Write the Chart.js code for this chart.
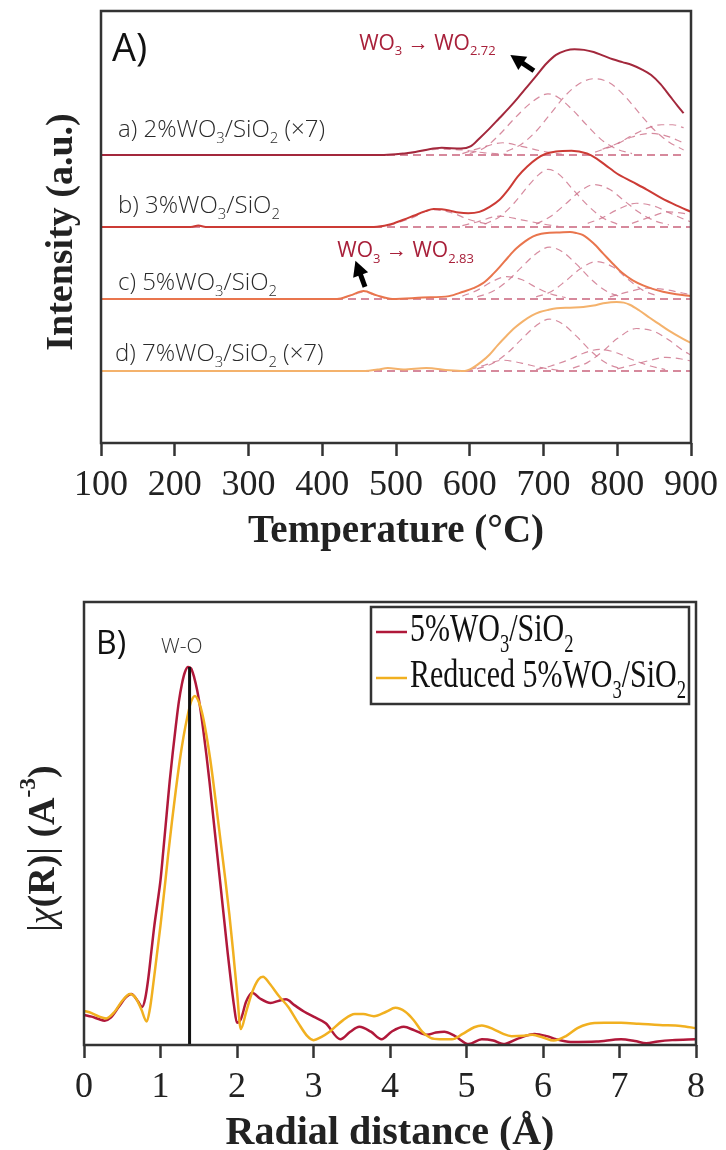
<!DOCTYPE html>
<html>
<head>
<meta charset="utf-8">
<script src="https://cdn.jsdelivr.net/npm/chart.js@4.4.1/dist/chart.umd.min.js"></script>
<style>
html, body { margin: 0; padding: 0; background: #fff; }
#wrap { position: relative; width: 726px; height: 1150px; }
#wrap canvas { position: absolute; left: 0; }
</style>
</head>
<body>
<div id="wrap">
  <canvas id="tpr" width="726" height="575" style="top:0"></canvas>
  <canvas id="exafs" width="726" height="575" style="top:575px"></canvas>
</div>
<script>
// ---------- A) H2-TPR profiles (heights above each sample's own baseline) ----------
var tempTicks = [100, 200, 300, 400, 500, 600, 700, 800, 900];

var tempA = [100, 300, 480, 500, 520, 540, 562, 588, 601, 613, 627, 640, 653, 665, 678, 691, 704, 717, 730, 742, 755, 768, 781, 794, 807, 820, 833, 846, 859, 872, 882, 890];
var sigA  = [0, 0, 0, 0.01, 0.03, 0.07, 0.10, 0.09, 0.12, 0.23, 0.37, 0.51, 0.65, 0.79, 0.95, 1.11, 1.27, 1.39, 1.45, 1.47, 1.46, 1.43, 1.38, 1.33, 1.29, 1.25, 1.19, 1.11, 0.98, 0.81, 0.68, 0.58];

var tempB = [100, 222, 232, 242, 470, 490, 510, 525, 540, 551, 562, 572, 585, 598, 613, 627, 640, 653, 665, 678, 691, 704, 717, 738, 759, 772, 784, 800, 820, 840, 860, 880, 900];
var sigB  = [0, 0, 0.02, 0, 0, 0.03, 0.10, 0.16, 0.22, 0.25, 0.245, 0.23, 0.20, 0.19, 0.21, 0.28, 0.375, 0.53, 0.70, 0.84, 0.95, 1.02, 1.05, 1.06, 1.02, 0.95, 0.86, 0.74, 0.63, 0.52, 0.40, 0.30, 0.21];

var tempC = [100, 420, 438, 456, 474, 495, 536, 572, 591, 605, 618, 630, 641, 652, 663, 675, 686, 697, 708, 722, 736, 745, 753, 767, 781, 794, 807, 821, 835, 848, 862, 880, 900];
var sigC  = [0, 0, 0.05, 0.11, 0.05, 0, 0.02, 0.04, 0.10, 0.15, 0.22, 0.33, 0.45, 0.58, 0.70, 0.80, 0.87, 0.905, 0.92, 0.925, 0.93, 0.915, 0.89, 0.78, 0.63, 0.49, 0.36, 0.26, 0.19, 0.14, 0.10, 0.065, 0.04];

var tempD = [100, 458, 475, 489, 510, 541, 572, 593, 605, 616, 627, 638, 650, 661, 672, 684, 695, 707, 718, 736, 754, 768, 781, 799, 809, 817, 830, 844, 857, 870, 885, 900];
var sigD  = [0, 0, 0.02, 0.04, 0.02, 0.04, 0.01, 0, 0.05, 0.13, 0.23, 0.36, 0.49, 0.60, 0.69, 0.77, 0.82, 0.85, 0.87, 0.88, 0.89, 0.91, 0.94, 0.96, 0.95, 0.92, 0.84, 0.74, 0.65, 0.56, 0.47, 0.39];

// fitted peak components [temperature, height]
var fitA1 = [[600,0.02],[620,0.10],[640,0.28],[660,0.50],[680,0.70],[695,0.81],[706,0.85],[720,0.80],[740,0.62],[760,0.40],[780,0.20],[800,0.08],[820,0.02]];
var fitA2 = [[650,0.05],[670,0.15],[690,0.33],[710,0.58],[730,0.83],[750,1.00],[769,1.06],[790,1.00],[810,0.82],[830,0.58],[850,0.35],[870,0.18],[890,0.07]];
var fitA3 = [[780,0.08],[800,0.16],[820,0.27],[840,0.37],[860,0.42],[875,0.42],[890,0.38]];
var fitA4 = [[770,0.04],[795,0.13],[820,0.25],[845,0.30],[865,0.27],[890,0.17]];
var fitA5 = [[590,0.02],[615,0.10],[645,0.17],[670,0.12],[700,0.05],[725,0.01]];
var fitA6 = [[500,0.01],[530,0.05],[560,0.08],[590,0.07],[620,0.03],[650,0.01]];

var fitB1 = [[620,0.04],[640,0.14],[660,0.33],[680,0.58],[695,0.74],[706,0.80],[720,0.74],[740,0.52],[760,0.30],[780,0.13],[800,0.04]];
var fitB2 = [[690,0.04],[710,0.15],[730,0.32],[750,0.50],[769,0.59],[790,0.52],[810,0.36],[830,0.20],[850,0.09],[870,0.03]];
var fitB3 = [[760,0.05],[780,0.13],[800,0.24],[826,0.33],[850,0.29],[870,0.20],[890,0.11],[900,0.07]];
var fitB4 = [[820,0.05],[845,0.14],[870,0.21],[890,0.19],[900,0.17]];
var fitB5 = [[590,0.02],[610,0.07],[640,0.15],[670,0.10],[700,0.04],[720,0.01]];
var fitB6 = [[490,0.02],[520,0.12],[550,0.24],[575,0.20],[600,0.10],[630,0.03]];

var fitC1 = [[610,0.03],[630,0.10],[650,0.24],[670,0.44],[690,0.63],[708,0.72],[725,0.66],[745,0.48],[765,0.27],[785,0.11],[805,0.03]];
var fitC2 = [[690,0.03],[710,0.10],[730,0.25],[750,0.42],[772,0.52],[795,0.44],[815,0.27],[835,0.12],[855,0.04]];
var fitC3 = [[590,0.04],[610,0.12],[630,0.24],[650,0.31],[670,0.27],[690,0.16],[710,0.07],[730,0.02]];
var fitC4 = [[790,0.03],[815,0.10],[840,0.15],[865,0.13],[890,0.08],[900,0.06]];
var fitC5 = [[430,0.02],[445,0.07],[456,0.10],[470,0.06],[485,0.01]];

var fitD1 = [[610,0.03],[630,0.10],[650,0.24],[670,0.44],[690,0.63],[708,0.72],[725,0.66],[745,0.48],[765,0.27],[785,0.11],[805,0.03]];
var fitD2 = [[740,0.04],[760,0.12],[780,0.27],[800,0.45],[826,0.59],[850,0.55],[870,0.43],[890,0.28],[900,0.22]];
var fitD3 = [[690,0.02],[710,0.07],[735,0.16],[755,0.25],[776,0.30],[800,0.25],[820,0.16],[845,0.07],[865,0.02]];
var fitD4 = [[800,0.03],[820,0.08],[845,0.15],[866,0.19],[885,0.17],[900,0.14]];
var fitD5 = [[600,0.02],[620,0.08],[645,0.15],[670,0.11],[695,0.05],[720,0.01]];

var sampleNames = ['a) 2%WO3/SiO2 (×7)', 'b) 3%WO3/SiO2', 'c) 5%WO3/SiO2', 'd) 7%WO3/SiO2 (×7)'];
var baselineEnd = [890, 900, 900, 900];

// ---------- B) EXAFS |chi(R)| ----------
var radTicks = [0, 1, 2, 3, 4, 5, 6, 7, 8];
var seriesNames = ['5%WO3/SiO2', 'Reduced 5%WO3/SiO2'];

var rFresh   = [0, 0.1, 0.2, 0.27, 0.35, 0.45, 0.55, 0.62, 0.7, 0.76, 0.8, 0.84, 0.88, 0.92, 0.96, 1.0, 1.04, 1.08, 1.12, 1.16, 1.2, 1.24, 1.28, 1.32, 1.36, 1.4, 1.44, 1.48, 1.52, 1.56, 1.6, 1.64, 1.68, 1.72, 1.76, 1.8, 1.84, 1.88, 1.92, 1.96, 2.0, 2.05, 2.12, 2.2, 2.3, 2.44, 2.55, 2.64, 2.75, 2.88, 3.0, 3.16, 3.35, 3.48, 3.6, 3.75, 3.89, 4.02, 4.18, 4.32, 4.48, 4.6, 4.71, 4.85, 5.03, 5.2, 5.35, 5.48, 5.68, 5.89, 6.05, 6.17, 6.36, 6.7, 7.02, 7.2, 7.35, 7.5, 7.69, 8.0];
var chiFresh = [0.68, 0.64, 0.58, 0.55, 0.62, 0.85, 1.08, 1.15, 1.0, 0.86, 1.05, 1.5, 2.1, 2.7, 3.2, 3.72, 4.45, 5.2, 5.95, 6.6, 7.2, 7.75, 8.15, 8.42, 8.53, 8.5, 8.3, 8.0, 7.6, 7.1, 6.55, 5.95, 5.3, 4.65, 4.0, 3.35, 2.7, 2.05, 1.45, 0.9, 0.5, 0.58, 0.98, 1.18, 1.05, 0.95, 1.0, 1.03, 0.9, 0.75, 0.64, 0.49, 0.13, 0.3, 0.41, 0.3, 0.13, 0.3, 0.41, 0.33, 0.23, 0.28, 0.3, 0.2, 0.02, 0.13, 0.1, 0.02, 0.15, 0.25, 0.2, 0.13, 0.07, 0.08, 0.13, 0.09, 0.04, 0.08, 0.11, 0.13];

var rReduced   = [0, 0.1, 0.2, 0.29, 0.4, 0.5, 0.6, 0.68, 0.75, 0.82, 0.86, 0.9, 0.95, 1.0, 1.065, 1.1, 1.15, 1.2, 1.25, 1.3, 1.35, 1.4, 1.45, 1.5, 1.55, 1.6, 1.65, 1.7, 1.75, 1.8, 1.85, 1.9, 1.95, 2.0, 2.05, 2.12, 2.2, 2.28, 2.34, 2.42, 2.55, 2.67, 2.8, 2.92, 3.0, 3.1, 3.21, 3.38, 3.54, 3.65, 3.79, 3.95, 4.07, 4.2, 4.31, 4.42, 4.53, 4.65, 4.81, 4.95, 5.1, 5.2, 5.35, 5.48, 5.59, 5.75, 5.86, 6.0, 6.14, 6.3, 6.45, 6.58, 6.8, 7.02, 7.25, 7.52, 7.8, 8.0];
var chiReduced = [0.77, 0.72, 0.64, 0.6, 0.75, 1.0, 1.15, 1.05, 0.8, 0.53, 0.8, 1.3, 2.0, 2.7, 3.72, 4.3, 5.05, 5.75, 6.4, 6.95, 7.4, 7.75, 7.88, 7.75, 7.45, 7.0, 6.45, 5.8, 5.1, 4.4, 3.7, 2.95, 2.1, 1.2, 0.36, 0.75, 1.2, 1.48, 1.54, 1.4, 1.1, 0.86, 0.5, 0.2, 0.11, 0.18, 0.3, 0.55, 0.7, 0.7, 0.65, 0.75, 0.84, 0.75, 0.56, 0.3, 0.16, 0.13, 0.13, 0.25, 0.4, 0.44, 0.36, 0.25, 0.2, 0.21, 0.23, 0.17, 0.1, 0.2, 0.38, 0.47, 0.5, 0.5, 0.48, 0.45, 0.43, 0.38];

var woLineR = [1.38, 1.38];
var woLineChi = [0, 8.53];

// ---------- helpers ----------
var SERIF = "'Liberation Serif', 'Times New Roman', serif";
var SANS = "'Open Sans', 'Noto Sans', sans-serif";

function xy(xs, ys, off) {
    return xs.map(function(x, i){ return {x: x, y: ys[i] + off}; });
}
function fromPairs(p, off) {
    return p.map(function(d){ return {x: d[0], y: d[1] + off}; });
}

// split "5%WO3/SiO2" style names into rich-text parts (digits after O are subscripts)
function chem(name) {
    var parts = [];
    var re = /(O)(\d+(?:\.\d+)?)/g, last = 0, m;
    while ((m = re.exec(name)) !== null) {
        parts.push({t: name.slice(last, m.index + 1)});
        parts.push({t: m[2], k: 'sub'});
        last = m.index + m[0].length;
    }
    parts.push({t: name.slice(last)});
    return parts;
}

function richWidth(ctx, parts, size, family, weight) {
    var w = 0;
    parts.forEach(function(p){
        var s = p.k ? size * 0.62 : size;
        ctx.font = (p.s || '') + ' ' + (p.w || weight || 'normal') + ' ' + s + 'px ' + family;
        w += ctx.measureText(p.t).width;
    });
    return w;
}

function richText(ctx, parts, x, y, size, family, color, opt) {
    opt = opt || {};
    ctx.save();
    ctx.translate(x, y);
    if (opt.rot) ctx.rotate(opt.rot);
    if (opt.sy) ctx.scale(1, opt.sy);
    ctx.fillStyle = color;
    ctx.textBaseline = opt.baseline || 'alphabetic';
    var cx = opt.center ? -richWidth(ctx, parts, size, family, opt.weight) / 2 : 0;
    parts.forEach(function(p){
        var s = p.k ? size * 0.62 : size;
        var dy = p.k === 'sub' ? size * 0.26 : (p.k === 'sup' ? -size * 0.40 : 0);
        ctx.font = (p.s || '') + ' ' + (p.w || opt.weight || 'normal') + ' ' + s + 'px ' + family;
        ctx.fillText(p.t, cx, dy);
        cx += ctx.measureText(p.t).width;
    });
    ctx.restore();
}

function arrow(ctx, x1, y1, x2, y2) {
    var a = Math.atan2(y2 - y1, x2 - x1), L = 15, W = 8;
    ctx.save();
    ctx.strokeStyle = '#000'; ctx.fillStyle = '#000'; ctx.lineWidth = 5;
    ctx.beginPath();
    ctx.moveTo(x1, y1);
    ctx.lineTo(x2 - Math.cos(a) * L * 0.8, y2 - Math.sin(a) * L * 0.8);
    ctx.stroke();
    ctx.beginPath();
    ctx.moveTo(x2, y2);
    ctx.lineTo(x2 - Math.cos(a) * L + Math.sin(a) * W, y2 - Math.sin(a) * L - Math.cos(a) * W);
    ctx.lineTo(x2 - Math.cos(a) * L - Math.sin(a) * W, y2 - Math.sin(a) * L + Math.cos(a) * W);
    ctx.closePath();
    ctx.fill();
    ctx.restore();
}

function frame(chart) {
    var ca = chart.chartArea, ctx = chart.ctx;
    ctx.save();
    ctx.strokeStyle = '#333';
    ctx.lineWidth = 2.5;
    ctx.strokeRect(ca.left, ca.top, ca.right - ca.left, ca.bottom - ca.top);
    ctx.restore();
}

// ---------- chart A ----------
var samples = [
    {t: tempA, v: sigA, fits: [fitA1, fitA2, fitA3, fitA4, fitA5, fitA6], off: 4, color: '#a3283c'},
    {t: tempB, v: sigB, fits: [fitB1, fitB2, fitB3, fitB4, fitB5, fitB6], off: 3, color: '#cc3b35'},
    {t: tempC, v: sigC, fits: [fitC1, fitC2, fitC3, fitC4, fitC5], off: 2, color: '#e9754d'},
    {t: tempD, v: sigD, fits: [fitD1, fitD2, fitD3, fitD4, fitD5], off: 1, color: '#f4b26c'}
];

var tprSets = [];
samples.forEach(function(s, i){
    tprSets.push({
        label: sampleNames[i],
        data: xy(s.t, s.v, s.off),
        borderColor: s.color,
        borderWidth: 2,
        order: 0
    });
    s.fits.forEach(function(f){
        tprSets.push({
            data: fromPairs(f, s.off),
            borderColor: 'rgba(204, 110, 135, 0.8)',
            borderWidth: 1.2,
            borderDash: [7, 5],
            order: 1
        });
    });
    tprSets.push({
        data: [{x: tempTicks[0], y: s.off}, {x: baselineEnd[i], y: s.off}],
        borderColor: 'rgba(190, 70, 100, 0.85)',
        borderWidth: 1.4,
        borderDash: [8, 5],
        order: 2
    });
});

var labelLift = [18, 14, 9, 10];
var redNote = '#a8203a';

function stepNote(to) {
    return [{t: 'WO'}, {t: '3', k: 'sub'}, {t: ' → ', w: 'bold'}, {t: 'WO'}, {t: to, k: 'sub'}];
}

var tprDecor = {
    id: 'tprDecor',
    afterDatasetsDraw: function(chart) {
        var ctx = chart.ctx, ca = chart.chartArea, x = chart.scales.x, y = chart.scales.y;
        frame(chart);
        richText(ctx, [{t: 'A)'}], ca.left + 11, ca.top + 50, 38, SANS, '#111');
        samples.forEach(function(s, i){
            richText(ctx, chem(sampleNames[i]), ca.left + 17 - (i === 3 ? 3 : 0), y.getPixelForValue(s.off) - labelLift[i], 24, SANS, '#2a2a2a', {weight: 300});
        });
        // reduction step annotations
        richText(ctx, stepNote('2.72'), x.getPixelForValue(450), y.getPixelForValue(5.46), 21, SANS, redNote);
        arrow(ctx, x.getPixelForValue(687), y.getPixelForValue(5.17), x.getPixelForValue(655), y.getPixelForValue(5.39));
        richText(ctx, stepNote('2.83'), x.getPixelForValue(420.5), y.getPixelForValue(2.58), 21, SANS, redNote);
        arrow(ctx, x.getPixelForValue(458), y.getPixelForValue(2.17), x.getPixelForValue(445), y.getPixelForValue(2.53));
        // y title
        richText(ctx, [{t: 'Intensity (a.u.)'}], 62, (ca.top + ca.bottom) / 2 + 5, 38, SERIF, '#222',
            {rot: -Math.PI / 2, center: true, baseline: 'middle', weight: 'bold'});
    }
};

new Chart(document.getElementById('tpr'), {
    type: 'line',
    data: {datasets: tprSets},
    options: {
        responsive: false,
        animation: false,
        events: [],
        layout: {padding: {left: 101, right: 30, top: 11, bottom: 0}},
        elements: {
            point: {radius: 0},
            line: {cubicInterpolationMode: 'monotone', fill: false}
        },
        plugins: {legend: {display: false}, tooltip: {enabled: false}},
        scales: {
            x: {
                type: 'linear', min: 100, max: 900,
                afterFit: function(s){ s.height = 132; },
                afterBuildTicks: function(s){ s.ticks = tempTicks.map(function(v){ return {value: v}; }); },
                border: {display: false},
                grid: {drawOnChartArea: false, tickLength: 13, tickWidth: 2.5, tickColor: '#333'},
                ticks: {font: {family: SERIF, size: 36}, color: '#222', padding: 8, maxRotation: 0},
                title: {display: true, text: 'Temperature (°C)', color: '#222',
                        font: {family: SERIF, size: 39, weight: 'bold', lineHeight: 0.8}, padding: {top: 0, bottom: 27}}
            },
            y: {type: 'linear', min: 0, max: 6, display: false}
        }
    },
    plugins: [tprDecor]
});

// ---------- chart B ----------
var fresh = '#b0183a', reduced = '#f1b020';

var exafsDecor = {
    id: 'exafsDecor',
    afterDatasetsDraw: function(chart) {
        var ctx = chart.ctx, ca = chart.chartArea;
        frame(chart);
        richText(ctx, [{t: 'B)'}], ca.left + 12, ca.top + 52, 32, SANS, '#111');
        richText(ctx, [{t: 'W-O'}], ca.left + 77, ca.top + 51, 21, SANS, '#333', {weight: 300});
        // legend
        var lx = 371, ly = ca.top + 5, lw = 318, lh = 97;
        ctx.save();
        ctx.strokeStyle = '#333'; ctx.lineWidth = 2.5;
        ctx.strokeRect(lx, ly, lw, lh);
        [fresh, reduced].forEach(function(c, i){
            ctx.strokeStyle = c; ctx.lineWidth = 2.5;
            ctx.beginPath();
            ctx.moveTo(lx + 5, ly + 25 + i * 46);
            ctx.lineTo(lx + 36, ly + 25 + i * 46);
            ctx.stroke();
            richText(ctx, chem(seriesNames[i]), lx + 39, ly + 34 + i * 46, 30, SERIF, '#111', {sy: 1.35});
        });
        ctx.restore();
        // y title
        richText(ctx, [{t: '|'}, {t: 'χ', s: 'italic'}, {t: '(R)', w: 'bold'}, {t: '|'}, {t: ' (A', w: 'bold'}, {t: '-3', k: 'sup', w: 'bold'}, {t: ')', w: 'bold'}],
            44, (ca.top + ca.bottom) / 2 + 25, 38, SERIF, '#222',
            {rot: -Math.PI / 2, center: true, baseline: 'middle'});
    }
};

new Chart(document.getElementById('exafs'), {
    type: 'line',
    data: {
        datasets: [
            {label: 'W-O', data: xy(woLineR, woLineChi, 0), borderColor: '#111', borderWidth: 3, order: 0},
            {label: seriesNames[1], data: xy(rReduced, chiReduced, 0), borderColor: reduced, borderWidth: 2.5, order: 1},
            {label: seriesNames[0], data: xy(rFresh, chiFresh, 0), borderColor: fresh, borderWidth: 2.5, order: 2}
        ]
    },
    options: {
        responsive: false,
        animation: false,
        events: [],
        layout: {padding: {left: 84, right: 30, top: 27, bottom: 0}},
        elements: {
            point: {radius: 0},
            line: {cubicInterpolationMode: 'monotone', fill: false}
        },
        plugins: {legend: {display: false}, tooltip: {enabled: false}},
        scales: {
            x: {
                type: 'linear', min: 0, max: 8,
                afterFit: function(s){ s.height = 105; },
                afterBuildTicks: function(s){ s.ticks = radTicks.map(function(v){ return {value: v}; }); },
                border: {display: false},
                grid: {drawOnChartArea: false, tickLength: 13, tickWidth: 2.5, tickColor: '#333'},
                ticks: {font: {family: SERIF, size: 36}, color: '#222', padding: 8, maxRotation: 0},
                title: {display: true, text: 'Radial distance (Å)', color: '#222',
                        font: {family: SERIF, size: 40, weight: 'bold', lineHeight: 0.8}, padding: {top: 0, bottom: 0}}
            },
            y: {type: 'linear', min: 0, max: 10, display: false}
        }
    },
    plugins: [exafsDecor]
});
</script>
</body>
</html>
